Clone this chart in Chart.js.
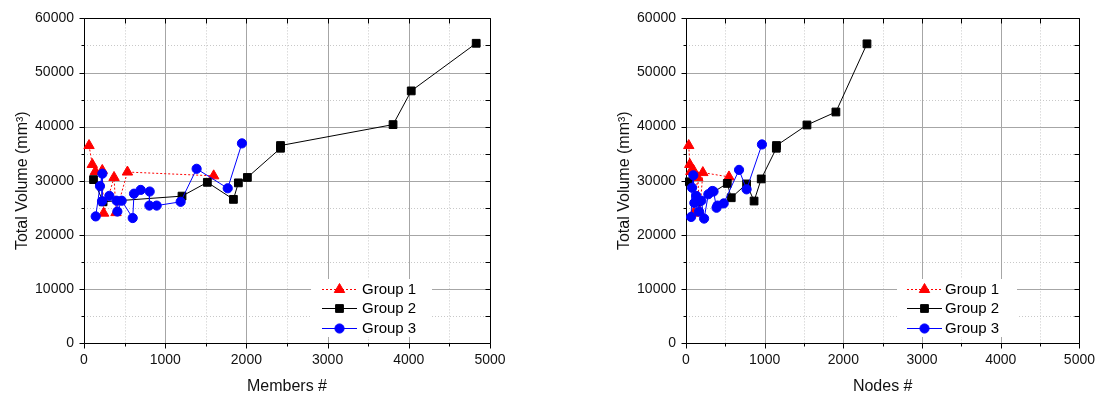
<!DOCTYPE html>
<html>
<head>
<meta charset="utf-8">
<script src="https://cdn.jsdelivr.net/npm/chart.js@4/dist/chart.umd.min.js"></script>
<style>
  html, body { margin: 0; padding: 0; background: #fff; }
  body { width: 1104px; height: 397px; position: relative; overflow: hidden; }
  canvas { position: absolute; top: 0; }
  #c1 { left: 0; }
  #c2 { left: 552px; }
</style>
</head>
<body>
<canvas id="c1" width="552" height="397"></canvas>
<canvas id="c2" width="552" height="397"></canvas>
<script>
// ---- Data ----
const seriesNames = ["Group 1", "Group 2", "Group 3"];
const xTicks = [0, 1000, 2000, 3000, 4000, 5000];
const yTicks = [0, 10000, 20000, 30000, 40000, 50000, 60000];

// Left chart: Members #
const membersG1 = [62, 102, 140, 225, 242, 370, 394, 535, 1597];
const volumeG1 = [36500, 33000, 31700, 31900, 24000, 30600, 24100, 31600, 30900];
const membersG2 = [117, 235, 1207, 1519, 1840, 1901, 2012, 2420, 2420, 3806, 4030, 4830];
const volumeG2 = [30200, 26100, 27150, 29700, 26550, 29600, 30600, 36000, 36500, 40370, 46600, 55400];
const membersG3 = [144, 197, 226, 222, 312, 402, 411, 464, 600, 616, 698, 809, 805, 895, 1190, 1387, 1770, 1945];
const volumeG3 = [23400, 29000, 31300, 26200, 27200, 26300, 24300, 26300, 23100, 27600, 28300, 28000, 25400, 25400, 26100, 32200, 28600, 36900];

// Right chart: Nodes #
const nodesG1 = [35, 48, 62, 95, 97, 150, 175, 214, 546];
const volNodesG1 = [36500, 33000, 31700, 31900, 24000, 30600, 24100, 31500, 30700];
const nodesG2 = [43, 150, 525, 575, 770, 865, 956, 1148, 1150, 1537, 1905, 2300];
const volNodesG2 = [29800, 26100, 29500, 26850, 29400, 26240, 30330, 36000, 36500, 40300, 42700, 55300];
const nodesG3 = [65, 77, 93, 106, 130, 150, 165, 195, 230, 284, 334, 350, 388, 400, 479, 674, 770, 965];
const volNodesG3 = [23300, 28700, 31000, 25900, 27200, 26300, 24300, 26300, 23000, 27500, 28100, 28000, 25000, 25400, 25800, 32000, 28400, 36700];

// ---- Styles ----
const FONT = "'Liberation Sans', Arial, sans-serif";
const styles = [
  { color: '#ff0000', style: 'triangle', radius: 6, dash: [2, 2] },
  { color: '#000000', style: 'rect', radius: 5.5, dash: [] },
  { color: '#0000ff', style: 'circle', radius: 4.6, dash: [] }
];

function pts(xs, ys) { return xs.map((x, i) => ({ x: x, y: ys[i] })); }

function makeDataset(i, xs, ys) {
  const s = styles[i];
  return {
    label: seriesNames[i],
    data: pts(xs, ys),
    showLine: true,
    borderColor: s.color,
    backgroundColor: s.color,
    borderWidth: 1,
    borderDash: s.dash,
    pointStyle: s.style,
    pointRadius: s.radius,
    pointBorderWidth: 1,
    pointBackgroundColor: s.color,
    pointBorderColor: s.color,
    order: 3 - i,
    clip: false
  };
}

// Frame, grid and tick marks plugin
const framePlugin = {
  id: 'frame',
  beforeDatasetsDraw(chart) {
    const ctx = chart.ctx;
    const xs = chart.scales.x, ys = chart.scales.y;
    const a = chart.chartArea;
    ctx.save();
    ctx.strokeStyle = '#c8c8c8';
    ctx.lineWidth = 1;
    ctx.setLineDash([1, 2]);
    for (let v = 500; v < 5000; v += 1000) {
      const p = Math.round(xs.getPixelForValue(v)) + 0.5;
      ctx.beginPath(); ctx.moveTo(p, a.top); ctx.lineTo(p, a.bottom); ctx.stroke();
    }
    for (let v = 5000; v < 60000; v += 10000) {
      const p = Math.round(ys.getPixelForValue(v)) + 0.5;
      ctx.beginPath(); ctx.moveTo(a.left, p); ctx.lineTo(a.right, p); ctx.stroke();
    }
    ctx.setLineDash([]);
    ctx.strokeStyle = '#a6a6a6';
    for (let v = 1000; v < 5000; v += 1000) {
      const p = Math.round(xs.getPixelForValue(v)) + 0.5;
      ctx.beginPath(); ctx.moveTo(p, a.top); ctx.lineTo(p, a.bottom); ctx.stroke();
    }
    for (let v = 10000; v < 60000; v += 10000) {
      const p = Math.round(ys.getPixelForValue(v)) + 0.5;
      ctx.beginPath(); ctx.moveTo(a.left, p); ctx.lineTo(a.right, p); ctx.stroke();
    }
    ctx.strokeStyle = '#000';
    ctx.lineWidth = 1;
    const L = Math.round(a.left) + 0.5, R = Math.round(a.right) + 0.5;
    const T = Math.round(a.top) + 0.5, B = Math.round(a.bottom) + 0.5;
    ctx.beginPath();
    ctx.moveTo(L, T); ctx.lineTo(R, T); ctx.lineTo(R, B); ctx.lineTo(L, B); ctx.closePath();
    ctx.stroke();
    for (let v = 0; v <= 5000; v += 500) {
      const p = Math.round(xs.getPixelForValue(v)) + 0.5;
      const major = v % 1000 === 0;
      ctx.beginPath(); ctx.moveTo(p, B); ctx.lineTo(p, B + (major ? 5 : 3)); ctx.stroke();
      ctx.beginPath(); ctx.moveTo(p, T); ctx.lineTo(p, T + 5); ctx.stroke();
    }
    for (let v = 0; v <= 60000; v += 5000) {
      const p = Math.round(ys.getPixelForValue(v)) + 0.5;
      const major = v % 10000 === 0;
      ctx.beginPath(); ctx.moveTo(L, p); ctx.lineTo(L - (major ? 5 : 3), p); ctx.stroke();
      ctx.beginPath(); ctx.moveTo(R, p); ctx.lineTo(R - 5, p); ctx.stroke();
    }
    ctx.restore();
  }
};

function drawMarker(ctx, style, x, y, r, color) {
  ctx.fillStyle = color;
  ctx.strokeStyle = color;
  ctx.lineWidth = 1;
  ctx.setLineDash([]);
  Chart.helpers.drawPoint(ctx, { pointStyle: style, radius: r, rotation: 0, borderWidth: 1 }, x, y);
}

const legendPlugin = {
  id: 'boxLegend',
  afterDatasetsDraw(chart, args, opts) {
    const ctx = chart.ctx;
    const b = opts.box;
    ctx.save();
    ctx.fillStyle = '#fff';
    ctx.fillRect(b.x, b.y, b.w, b.h);
    ctx.font = '15px ' + FONT;
    ctx.textBaseline = 'middle';
    ctx.textAlign = 'left';
    for (let i = 0; i < 3; i++) {
      const y = opts.rows[i] + 0.5;
      const s = styles[i];
      ctx.strokeStyle = s.color;
      ctx.lineWidth = 1;
      ctx.setLineDash(s.dash);
      ctx.beginPath(); ctx.moveTo(opts.lineX0, y); ctx.lineTo(opts.lineX1, y); ctx.stroke();
      drawMarker(ctx, s.style, opts.markX, y, s.radius, s.color);
      ctx.fillStyle = '#000';
      ctx.fillText(seriesNames[i], opts.textX, opts.rows[i] + 1);
    }
    ctx.restore();
  }
};

function makeChart(id, title, sets, padLeft, padRight, legendOpts) {
  return new Chart(document.getElementById(id), {
    type: 'scatter',
    data: { datasets: sets },
    plugins: [framePlugin, legendPlugin],
    options: {
      responsive: false,
      animation: false,
      events: [],
      layout: { padding: { left: padLeft, right: padRight, top: 16, bottom: 0 } },
      plugins: {
        legend: { display: false },
        tooltip: { enabled: false },
        boxLegend: legendOpts
      },
      scales: {
        x: {
          type: 'linear', min: 0, max: 5000,
          afterFit: s => { s.height = 54; },
          afterBuildTicks: s => { s.ticks = xTicks.map(v => ({ value: v })); },
          grid: { display: false, drawTicks: false },
          border: { display: false },
          ticks: { stepSize: 1000, padding: 9, color: '#111', font: { family: FONT, size: 14 }, callback: v => String(v), maxRotation: 0 },
          title: { display: true, text: title, color: '#111', font: { family: FONT, size: 16 }, padding: { top: 0, bottom: 1 } }
        },
        y: {
          type: 'linear', min: 0, max: 60000,
          afterFit: s => { s.width = 84; },
          afterBuildTicks: s => { s.ticks = yTicks.map(v => ({ value: v })); },
          grid: { display: false, drawTicks: false },
          border: { display: false },
          ticks: { stepSize: 10000, padding: 10, color: '#111', font: { family: FONT, size: 14 }, callback: v => String(v) },
          title: { display: true, text: 'Total Volume (mm³)', color: '#111', font: { family: FONT, size: 16 }, padding: { top: 13, bottom: 0 } }
        }
      }
    }
  });
}

makeChart('c1', 'Members #', [
  makeDataset(0, membersG1, volumeG1),
  makeDataset(1, membersG2, volumeG2),
  makeDataset(2, membersG3, volumeG3)
], 0, 62, {
  box: { x: 311, y: 279, w: 121, h: 58 },
  rows: [289, 308, 328], lineX0: 322, lineX1: 357, markX: 339.5, textX: 362
});

makeChart('c2', 'Nodes #', [
  makeDataset(0, nodesG1, volNodesG1),
  makeDataset(1, nodesG2, volNodesG2),
  makeDataset(2, nodesG3, volNodesG3)
], 50, 16, {
  box: { x: 345, y: 279, w: 120, h: 58 },
  rows: [289, 308, 328], lineX0: 355, lineX1: 390, markX: 372.5, textX: 393
});
</script>
</body>
</html>
